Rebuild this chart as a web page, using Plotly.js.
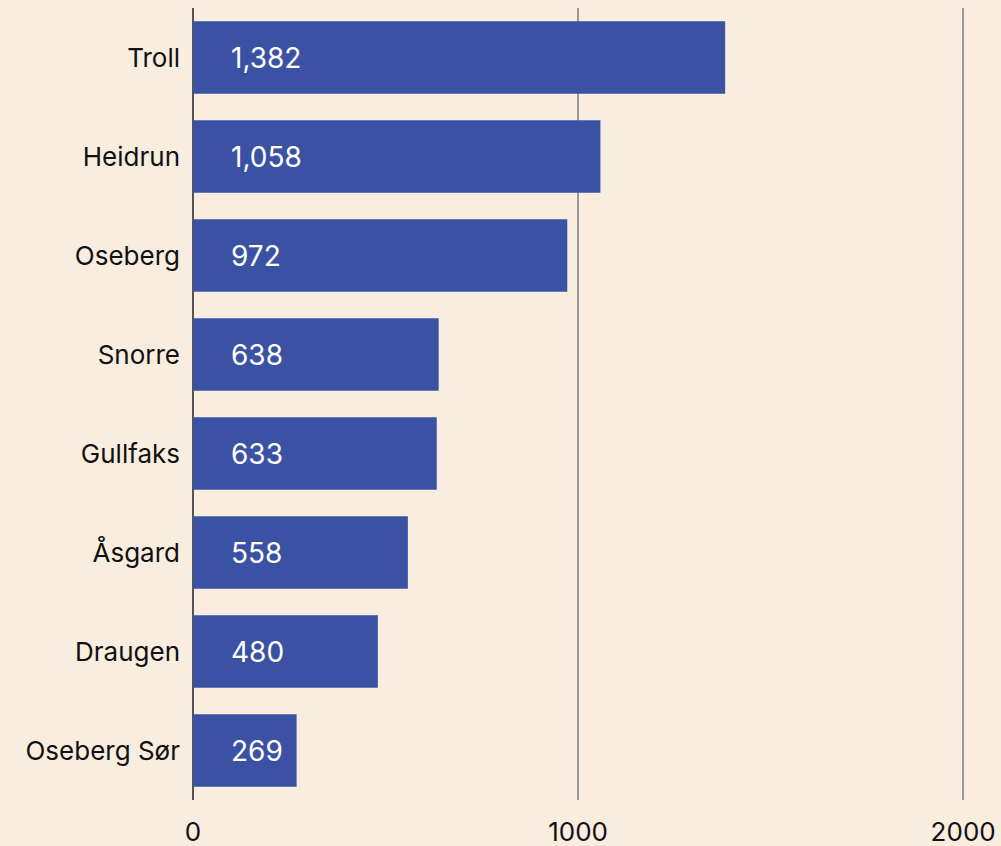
<!DOCTYPE html>
<html>
<head>
<meta charset="utf-8">
<script src="https://cdn.plot.ly/plotly-3.0.1.min.js"></script>
<style>html,body{margin:0;padding:0;background:#f9eddf;}#chart{width:1001px;height:846px;}</style>
</head>
<body>
<div id="chart"></div>
<script>
const fields = ["Troll", "Heidrun", "Oseberg", "Snorre", "Gullfaks", "Åsgard", "Draugen", "Oseberg Sør"];
const values = [1382, 1058, 972, 638, 633, 558, 480, 269];
const labels = ["1,382", "1,058", "972", "638", "633", "558", "480", "269"];

const fontFam = "Inter, Roboto, 'Noto Sans', sans-serif";
const trace = {
  type: 'bar', orientation: 'h',
  x: values, y: fields,
  marker: {color: '#3b52a4'},
  hoverinfo: 'skip'
};
const annotations = fields.map((f, i) => ({
  x: 0, y: f, xref: 'x', yref: 'y', text: labels[i], showarrow: false,
  xanchor: 'left', xshift: 36, font: {family: fontFam, size: 28, color: '#ffffff'}
}));
const layout = {
  width: 1001, height: 846,
  paper_bgcolor: '#f9eddf', plot_bgcolor: '#f9eddf',
  margin: {l: 193, r: 34, t: 8, b: 46},
  bargap: 0.27,
  showlegend: false,
  font: {family: fontFam, size: 26, color: '#111'},
  xaxis: {range: [0, 2010], tickvals: [0, 1000, 2000], ticktext: ['0', '1000', '2000'],
          showgrid: true, gridcolor: '#9a9a9a', gridwidth: 1.5,
          zeroline: true, zerolinecolor: '#555', zerolinewidth: 2,
          showline: false, ticks: '', ticklabelstandoff: 14,
          tickfont: {size: 26, color: '#111'}, fixedrange: true},
  yaxis: {autorange: 'reversed', showgrid: false, zeroline: false, ticks: '', ticklen: 0,
          ticklabelstandoff: 12,
          tickfont: {size: 26, color: '#111'}, automargin: false},
  annotations: annotations
};
Plotly.newPlot('chart', [trace], layout, {displayModeBar: false, staticPlot: true});
</script>
</body>
</html>
